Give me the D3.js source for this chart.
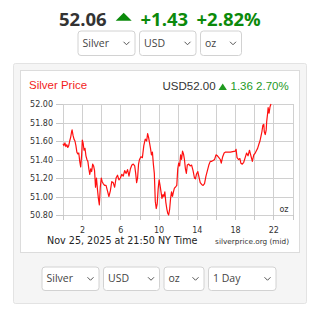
<!DOCTYPE html>
<html>
<head>
<meta charset="utf-8">
<script src="https://cdn.jsdelivr.net/npm/d3@7"></script>
<style>
  body { margin: 0; background: #fff; }
  svg { display: block; }
  .grid line { stroke: #d0d0d0; shape-rendering: crispEdges; }
  .grid .domain { display: none; }
  .axis .domain { display: none; }
  .axis line { stroke: #c8c8c8; shape-rendering: crispEdges; }
  .axis text { fill: #333; font-family: "DejaVu Sans", Verdana, sans-serif; font-size: 8px; }
</style>
</head>
<body>
<div id="vis"></div>
<script>
// price readings, hours since midnight NY time
var hours = [0.00,0.10,0.20,0.30,0.40,0.50,0.60,0.70,0.80,0.90,0.95,1.05,1.15,1.25,1.35,1.45,1.55,1.65,1.75,1.85,
  1.95,2.02,2.10,2.20,2.30,2.40,2.50,2.60,2.70,2.80,2.90,3.00,3.10,3.20,3.30,3.40,3.50,3.60,3.70,3.80,
  3.90,4.00,4.10,4.20,4.35,4.50,4.65,4.80,4.95,5.10,5.25,5.40,5.55,5.70,5.85,6.00,6.15,6.30,6.45,6.60,
  6.75,6.90,7.05,7.20,7.35,7.50,7.60,7.70,7.80,7.90,8.00,8.15,8.30,8.45,8.60,8.75,8.85,8.95,9.05,9.15,
  9.25,9.35,9.45,9.55,9.65,9.75,9.85,9.95,10.05,10.15,10.25,10.35,10.45,10.55,10.65,10.75,10.85,10.95,11.05,11.15,
  11.25,11.35,11.45,11.55,11.65,11.75,11.90,12.00,12.10,12.20,12.30,12.40,12.50,12.60,12.70,12.80,12.90,13.00,13.15,13.30,
  13.45,13.60,13.75,13.85,13.95,14.10,14.20,14.35,14.50,14.65,14.80,14.95,15.10,15.25,15.40,15.55,15.70,15.85,16.00,16.15,
  16.30,16.45,16.55,16.70,16.85,17.00,17.50,18.00,18.10,18.20,18.35,18.50,18.60,18.75,18.90,19.05,19.20,19.35,19.50,19.60,
  19.70,19.80,19.95,20.10,20.25,20.35,20.50,20.60,20.70,20.80,20.90,21.00,21.05,21.15,21.25,21.30,21.40,21.45,21.55,21.65,21.75];
var prices = [51.57,51.55,51.58,51.54,51.56,51.53,51.55,51.60,51.64,51.70,51.72,51.66,51.62,51.60,51.55,51.48,51.46,51.47,51.38,51.32,
  51.45,51.61,51.58,51.50,51.52,51.44,51.40,51.38,51.30,51.24,51.30,51.27,51.35,51.33,51.28,51.10,51.20,51.08,50.98,50.91,
  51.10,51.20,51.16,51.14,51.12,51.12,51.06,51.00,51.06,51.16,51.15,51.10,51.20,51.23,51.18,51.20,51.24,51.22,51.28,51.25,
  51.29,51.22,51.30,51.34,51.35,51.33,51.25,51.15,51.20,51.35,51.40,51.43,51.42,51.55,51.62,51.60,51.68,51.64,51.58,51.52,
  51.45,51.48,51.35,51.25,50.95,50.87,50.92,51.08,51.18,51.12,51.05,50.98,51.02,51.00,51.05,50.94,50.87,50.82,50.80,50.86,
  50.98,51.05,51.00,51.05,51.09,51.10,51.12,51.30,51.36,51.33,51.45,51.40,51.49,51.46,51.40,51.30,51.25,51.34,51.35,51.33,
  51.34,51.28,51.20,51.19,51.24,51.27,51.22,51.15,51.13,51.12,51.14,51.22,51.28,51.34,51.38,51.38,51.39,51.40,51.45,51.44,
  51.42,51.40,51.36,51.43,51.47,51.48,51.48,51.49,51.51,51.42,51.40,51.41,51.36,51.35,51.37,51.42,51.47,51.44,51.50,51.46,
  51.42,51.38,51.45,51.47,51.50,51.52,51.57,51.60,51.65,51.70,51.77,51.78,51.70,51.67,51.72,51.81,51.90,51.96,51.90,51.97,52.00];

var yTicks = [50.80, 51.00, 51.20, 51.40, 51.60, 51.80, 52.00];
var xTicks = [0, 2, 4, 6, 8, 10, 12, 14, 16, 18, 20, 22, 24];
var xLabels = [2, 6, 10, 14, 18, 22];

var topSelects = ["Silver", "USD", "oz"];
var bottomSelects = ["Silver", "USD", "oz", "1 Day"];

var data = hours.map(function(h, i) { return {h: h, v: prices[i]}; });

var W = 320, H = 319;
var margin = {top: 104, left: 63, right: 27.5, bottom: 104};
var width = W - margin.left - margin.right,
    height = 111;

var svg = d3.select("#vis").append("svg")
  .attr("width", W)
  .attr("height", H);

// header: price and change
var green = "#0b8a0b";
var head = svg.append("g")
  .attr("font-family", "'Open Sans', sans-serif")
  .attr("font-weight", "bold")
  .attr("font-size", "18.5px");
head.append("text").attr("x", 59).attr("y", 25.5).attr("fill", "#333").text("52.06");
head.append("path").attr("d", "M115.7,20.7 L123.7,12.7 L131.7,20.7 Z").attr("fill", green);
head.append("text").attr("x", 140.5).attr("y", 25.5).attr("fill", green).text("+1.43");
head.append("text").attr("x", 196.5).attr("y", 25.5).attr("fill", green).text("+2.82%");

// dropdown boxes
function drawSelects(labels, widths, x0, y0, h) {
  var xs = [], cx = x0;
  widths.forEach(function(w) { xs.push(cx); cx += w + 4.5; });
  var g = svg.append("g").selectAll("g")
    .data(labels)
    .enter().append("g")
    .attr("transform", function(d, i) { return "translate(" + xs[i] + "," + y0 + ")"; });
  g.append("rect")
    .attr("x", 0.5).attr("y", 0.5)
    .attr("width", function(d, i) { return widths[i]; })
    .attr("height", h)
    .attr("rx", 3)
    .attr("fill", "#fff")
    .attr("stroke", "#d2d2d2");
  g.append("text")
    .attr("x", 5)
    .attr("y", h / 2 + 4)
    .attr("font-family", "'Open Sans', sans-serif")
    .attr("font-size", "10.5px")
    .attr("fill", "#444")
    .text(function(d) { return d; });
  g.append("path")
    .attr("d", function(d, i) {
      var cxv = widths[i] - 8;
      return "M" + (cxv - 3) + "," + (h / 2 - 1) + " L" + cxv + "," + (h / 2 + 2) + " L" + (cxv + 3) + "," + (h / 2 - 1);
    })
    .attr("fill", "none")
    .attr("stroke", "#555")
    .attr("stroke-width", 1);
}
drawSelects(topSelects, [57, 56.5, 41], 77.5, 30.5, 24.5);

// panel
svg.append("rect")
  .attr("x", 13.5).attr("y", 63.5).attr("width", 293).attr("height", 240)
  .attr("rx", 2)
  .attr("fill", "#f5f5f5").attr("stroke", "#e3e3e3");
svg.append("rect")
  .attr("x", 20.5).attr("y", 70.5).attr("width", 279).attr("height", 182)
  .attr("fill", "#fff").attr("stroke", "#dcdcdc");

drawSelects(bottomSelects, [57, 56, 40, 67.5], 41.5, 266.5, 23.5);

// chart title row
var title = svg.append("g")
  .attr("font-family", "'Liberation Sans', Arial, sans-serif")
  .attr("font-size", "11.5px");
title.append("text").attr("x", 29).attr("y", 89).attr("fill", "#f21d1d").text("Silver Price");
title.append("text").attr("x", 162.5).attr("y", 89.5).attr("fill", "#333").text("USD52.00");
title.append("path").attr("d", "M218.5,90 L222.7,83.5 L226.9,90 Z").attr("fill", "#1f9a1f");
title.append("text").attr("x", 230.5).attr("y", 89.5).attr("fill", "#1f9a1f").text("1.36 2.70%");

var g = svg.append("g")
  .attr("transform", "translate(" + margin.left + "," + margin.top + ")");

var x = d3.scaleLinear().domain([0, 24]).range([0, width]);
var y = d3.scaleLinear().domain([50.8, 52.0]).range([height, 0]);

// grid
g.append("g").attr("class", "grid")
  .call(d3.axisLeft(y).tickValues(yTicks).tickSize(-width).tickFormat(""));
g.append("g").attr("class", "grid")
  .attr("transform", "translate(0," + height + ")")
  .call(d3.axisBottom(x).tickValues(xTicks).tickSize(-height).tickFormat(""));

// axes
g.append("g").attr("class", "axis")
  .call(d3.axisLeft(y).tickValues(yTicks).tickSize(7).tickPadding(3).tickFormat(d3.format(".2f")));
g.append("g").attr("class", "axis")
  .attr("transform", "translate(0," + height + ")")
  .call(d3.axisBottom(x).tickValues(xTicks).tickSize(5).tickPadding(7)
    .tickFormat(function(d) { return xLabels.indexOf(d) >= 0 ? d : ""; }));

// price line
g.append("path")
  .datum(data)
  .attr("fill", "none")
  .attr("stroke", "#ff1010")
  .attr("stroke-width", 1.2)
  .attr("stroke-linejoin", "round")
  .attr("d", d3.line()
    .x(function(d) { return x(d.h); })
    .y(function(d) { return y(d.v); }));

g.append("text")
  .attr("x", width - 4)
  .attr("y", height - 3.5)
  .attr("text-anchor", "end")
  .attr("font-family", "'DejaVu Sans', Verdana, sans-serif")
  .attr("font-size", "8px")
  .attr("fill", "#333")
  .text("oz");

// footer
svg.append("text")
  .attr("x", 47).attr("y", 244)
  .attr("font-family", "'DejaVu Sans', Verdana, sans-serif")
  .attr("font-size", "9.6px")
  .attr("fill", "#222")
  .text("Nov 25, 2025 at 21:50 NY Time");
svg.append("text")
  .attr("x", 289).attr("y", 244)
  .attr("text-anchor", "end")
  .attr("font-family", "'DejaVu Sans', Verdana, sans-serif")
  .attr("font-size", "7.3px")
  .attr("fill", "#333")
  .text("silverprice.org (mid)");
</script>
</body>
</html>
